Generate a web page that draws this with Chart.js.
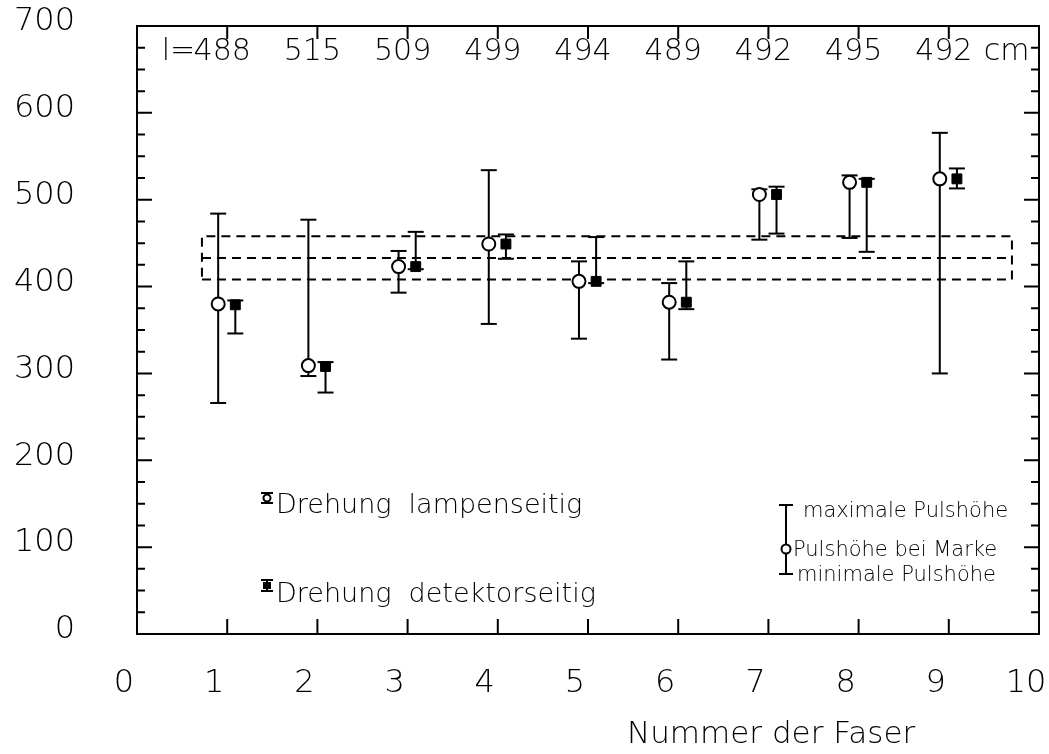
<!DOCTYPE html>
<html><head><meta charset="utf-8">
<script src="https://cdn.jsdelivr.net/npm/chart.js@4/dist/chart.umd.min.js"></script>
<style>html,body{margin:0;padding:0;background:#fff}#wrap{width:1049px;height:754px;position:relative}</style>
</head><body><div id="wrap"><canvas id="c" width="1049" height="754"></canvas></div>
<script>
// ---- data ----
const fibres = [1, 2, 3, 4, 5, 6, 7, 8, 9];
const lengthLabels = ['488', '515', '509', '499', '494', '489', '492', '495', '492'];
const lampValue = [380, 309, 423, 449, 406, 382, 506, 520, 524];
const lampMax   = [484, 477, 441, 534, 429, 404, 512, 528, 577];
const lampMin   = [266, 297, 393, 357, 340, 316, 454, 456, 300];
const detValue  = [379, 308, 423, 449, 406, 382, 506, 520, 524];
const detMax    = [384, 313, 463, 460, 457, 429, 515, 524, 536];
const detMin    = [346, 278, 420, 432, 404, 374, 461, 440, 513];
const bandLow = 408, bandMid = 433, bandHigh = 458;
const bandStart = 0.72, bandEnd = 9.70;
const xMin = 0, xMax = 10, yMin = 0, yMax = 700;
const xTitle = 'Nummer der Faser';
const legendLamp = 'Drehung  lampenseitig';
const legendDet = 'Drehung  detektorseitig';
const keyTexts = ['maximale Pulshöhe', 'Pulshöhe bei Marke', 'minimale Pulshöhe'];

// ---- build datasets ----
const LAMP_SHIFT = -0.10, DET_SHIFT = 0.09;
function errPoints(mins, maxs, shift) {
  const pts = [];
  fibres.forEach((f, i) => {
    pts.push({x: f + shift, y: mins[i]});
    pts.push({x: f + shift, y: maxs[i]});
    pts.push({x: f + shift, y: null});
  });
  return pts;
}
const FONT = '"DejaVu Sans", "Liberation Sans", sans-serif';
const W = '200 ';

const datasets = [
  { type: 'scatter', label: 'lamp', data: fibres.map((f, i) => ({x: f + LAMP_SHIFT, y: lampValue[i]})),
    pointStyle: 'circle', pointRadius: 6.5, pointBackgroundColor: '#fff', pointBorderColor: '#000', pointBorderWidth: 2, order: 0 },
  { type: 'scatter', label: 'det', data: fibres.map((f, i) => ({x: f + DET_SHIFT, y: detValue[i]})),
    pointStyle: 'rect', pointRadius: 7, pointBackgroundColor: '#000', pointBorderColor: '#000', pointBorderWidth: 1, order: 0 },
  { type: 'line', label: 'lampErr', data: errPoints(lampMin, lampMax, LAMP_SHIFT),
    borderColor: '#000', borderWidth: 2, spanGaps: false, pointStyle: 'line', pointRadius: 8, pointBorderWidth: 2, pointBorderColor: '#000', order: 2 },
  { type: 'line', label: 'detErr', data: errPoints(detMin, detMax, DET_SHIFT),
    borderColor: '#000', borderWidth: 2, spanGaps: false, pointStyle: 'line', pointRadius: 8, pointBorderWidth: 2, pointBorderColor: '#000', order: 2 },
  { type: 'line', label: 'band', data: [
      {x: bandStart, y: bandLow}, {x: bandEnd, y: bandLow}, {x: bandEnd, y: bandHigh},
      {x: bandStart, y: bandHigh}, {x: bandStart, y: bandLow}],
    borderColor: '#000', borderWidth: 2, borderDash: [9, 6], pointRadius: 0, order: 3 },
  { type: 'line', label: 'bandMid', data: [{x: bandStart, y: bandMid}, {x: bandEnd, y: bandMid}],
    borderColor: '#000', borderWidth: 2, borderDash: [9, 6], pointRadius: 0, order: 3 }
];

const framePlugin = {
  id: 'frame',
  afterDraw(chart) {
    const {ctx, chartArea: a, scales: {x, y}} = chart;
    ctx.save();
    ctx.strokeStyle = '#000';
    ctx.fillStyle = '#000';
    ctx.lineWidth = 2;
    ctx.strokeRect(a.left, a.top, a.right - a.left, a.bottom - a.top);
    ctx.beginPath();
    for (let v = yMin; v <= yMax; v += 25) {
      const py = y.getPixelForValue(v);
      const len = v % 100 === 0 ? 15 : 8;
      ctx.moveTo(a.left, py); ctx.lineTo(a.left + len, py);
      ctx.moveTo(a.right, py); ctx.lineTo(a.right - len, py);
    }
    for (let v = xMin + 1; v < xMax; v++) {
      const px = x.getPixelForValue(v);
      ctx.moveTo(px, a.bottom); ctx.lineTo(px, a.bottom - 15);
      ctx.moveTo(px, a.top); ctx.lineTo(px, a.top + 13);
    }
    ctx.stroke();

    // fibre lengths along the top
    ctx.font = W + '30px ' + FONT;
    ctx.textBaseline = 'alphabetic';
    ctx.textAlign = 'center';
    const ty = 60;
    lengthLabels.forEach((t, i) => {
      ctx.fillText(t, x.getPixelForValue(fibres[i]) - 5, ty);
    });
    ctx.textAlign = 'right';
    ctx.fillText('l=', x.getPixelForValue(fibres[0]) - 32, ty);
    ctx.textAlign = 'left';
    ctx.fillText('cm', x.getPixelForValue(fibres[fibres.length - 1]) + 35, ty);

    // axis title
    ctx.font = W + '31px ' + FONT;
    ctx.textAlign = 'left';
    ctx.fillText(xTitle, 627, 743);

    // legend (left)
    ctx.font = W + '27px ' + FONT;
    ctx.fillText(legendLamp, 276, 513);
    ctx.fillText(legendDet, 276, 602);
    ctx.lineWidth = 2;
    ctx.beginPath();
    ctx.moveTo(261, 493); ctx.lineTo(273, 493);
    ctx.moveTo(261, 503); ctx.lineTo(273, 503);
    ctx.moveTo(267, 493); ctx.lineTo(267, 503);
    ctx.stroke();
    ctx.beginPath(); ctx.arc(267, 498, 3.5, 0, Math.PI * 2);
    ctx.fillStyle = '#fff'; ctx.fill(); ctx.stroke(); ctx.fillStyle = '#000';
    ctx.beginPath();
    ctx.moveTo(261, 580); ctx.lineTo(273, 580);
    ctx.moveTo(261, 591); ctx.lineTo(273, 591);
    ctx.moveTo(267, 580); ctx.lineTo(267, 591);
    ctx.stroke();
    ctx.fillRect(263, 582, 8, 7);

    // key (right)
    ctx.beginPath();
    ctx.moveTo(786, 505); ctx.lineTo(786, 574);
    ctx.moveTo(779, 505); ctx.lineTo(793, 505);
    ctx.moveTo(779, 574); ctx.lineTo(793, 574);
    ctx.stroke();
    ctx.beginPath(); ctx.arc(786, 549, 4.5, 0, Math.PI * 2);
    ctx.fillStyle = '#fff'; ctx.fill(); ctx.stroke(); ctx.fillStyle = '#000';
    ctx.font = W + '21px ' + FONT;
    ctx.fillText(keyTexts[0], 803, 517);
    ctx.fillText(keyTexts[1], 793, 556);
    ctx.fillText(keyTexts[2], 797, 581);
    ctx.restore();
  }
};

function noPad(s) { s.paddingLeft = 0; s.paddingRight = 0; s.paddingTop = 0; s.paddingBottom = 0; }

new Chart(document.getElementById('c'), {
  data: { datasets },
  options: {
    responsive: false,
    animation: false,
    devicePixelRatio: 1,
    layout: { padding: { left: 0, right: 9, top: 26, bottom: 0 } },
    plugins: { legend: { display: false }, tooltip: { enabled: false } },
    scales: {
      x: {
        type: 'linear', min: xMin, max: xMax,
        grid: { display: false, drawTicks: true, tickLength: 30 }, border: { display: false },
        ticks: { stepSize: 1, color: '#000', font: { family: FONT, size: 32, weight: '200' }, padding: 0, labelOffset: -13, maxRotation: 0 },
        afterFit(s) { s.height = 120; noPad(s); }
      },
      y: {
        type: 'linear', min: yMin, max: yMax,
        grid: { display: false, drawTicks: true, tickLength: 62 }, border: { display: false },
        ticks: { stepSize: 100, color: '#000', font: { family: FONT, size: 32, weight: '200' }, padding: 0, labelOffset: -4 },
        afterFit(s) { s.width = 137; noPad(s); }
      }
    }
  },
  plugins: [framePlugin]
});
</script>
</body></html>
